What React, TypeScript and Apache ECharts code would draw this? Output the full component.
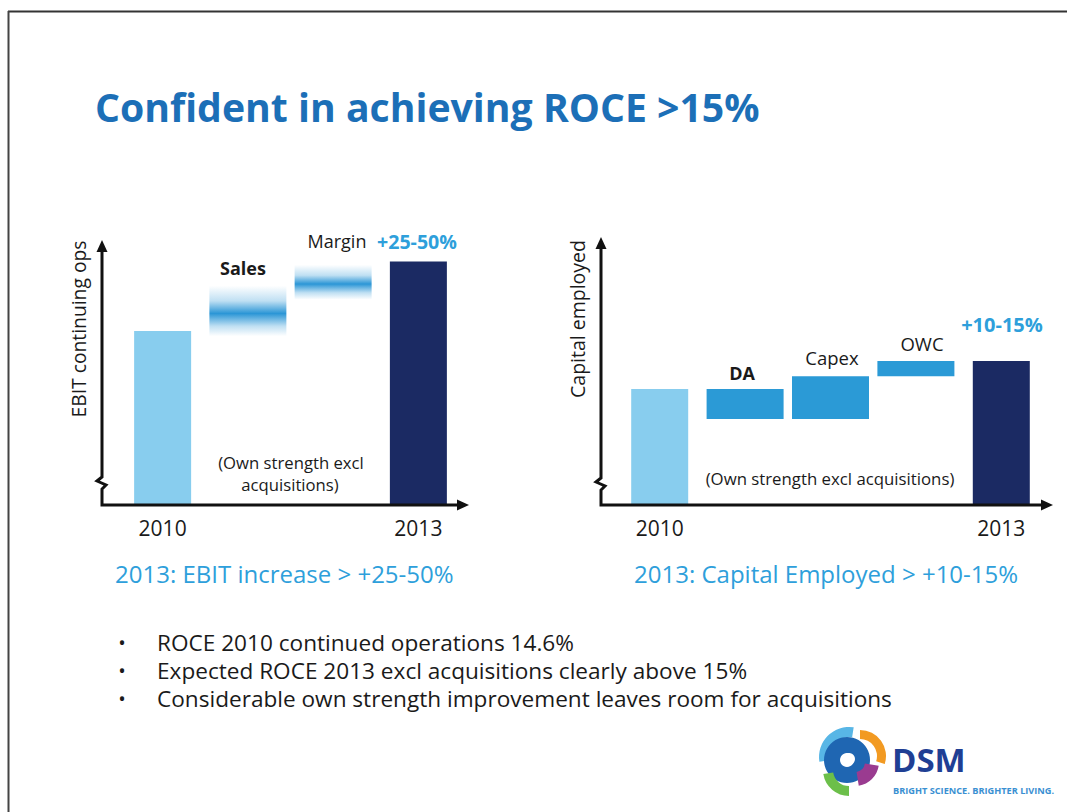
import React, { useEffect, useRef } from "react";
import * as echarts from "echarts";

// ---- data ----
const leftCategories = ["2010", "Sales", "Margin", "2013"];
const ebitTotals: (number | string)[] = [100, "-", "-", 140];
const ebitStepLow: (number | string)[] = ["-", 97, 118, "-"];
const ebitStepSize: (number | string)[] = ["-", 29, 20, "-"];

const rightCategories = ["2010", "DA", "Capex", "OWC", "2013"];
const capitalStart = 100;
const capitalChanges = [-26, 37, 13];
const capitalEnd = 124;

const yearLabels = ["2010", "2013"];
const bullets = [
  "ROCE 2010 continued operations 14.6%",
  "Expected ROCE 2013 excl acquisitions clearly above 15%",
  "Considerable own strength improvement leaves room for acquisitions",
];

const FONT = "'Open Sans', 'Noto Sans', sans-serif";
const LIGHT = "#88cdee";
const NAVY = "#1b2a63";
const MID = "#2b9ad6";
const CYAN_TEXT = "#2e9fdb";

function buildCapitalWaterfall() {
  const low: (number | string)[] = ["-"];
  const size: (number | string)[] = ["-"];
  let running = capitalStart;
  capitalChanges.forEach((c) => {
    const next = running + c;
    low.push(Math.min(running, next));
    size.push(Math.abs(c));
    running = next;
  });
  low.push("-");
  size.push("-");
  const totals: (number | string)[] = [capitalStart, "-", "-", "-", capitalEnd];
  return { low, size, totals };
}

function axisArrows(x: number, yTop: number, yBase: number, xEnd: number, breakY: number) {
  const stroke = "#111";
  return [
    {
      type: "polyline",
      shape: {
        points: [
          [x, yTop + 6],
          [x, breakY - 5],
          [x - 5, breakY - 1],
          [x + 4, breakY + 3],
          [x, breakY + 7],
          [x, yBase],
          [xEnd - 6, yBase],
        ],
      },
      style: { stroke, lineWidth: 3, fill: null },
      z: 10,
    },
    {
      type: "polygon",
      shape: { points: [[x, yTop], [x - 5.5, yTop + 12], [x + 5.5, yTop + 12]] },
      style: { fill: stroke },
      z: 10,
    },
    {
      type: "polygon",
      shape: { points: [[xEnd, yBase], [xEnd - 12, yBase - 5.5], [xEnd - 12, yBase + 5.5]] },
      style: { fill: stroke },
      z: 10,
    },
  ];
}

function txt(text: string, x: number, y: number, size: number, opts: any = {}) {
  return {
    type: "text",
    x,
    y,
    rotation: opts.rotation || 0,
    z: 20,
    style: {
      text,
      fill: opts.color || "#1a1a1a",
      font: `${opts.bold ? "bold " : ""}${size}px ${FONT}`,
      textAlign: opts.align || "center",
      textVerticalAlign: "middle",
    },
  };
}

export default function App() {
  const ref = useRef<HTMLDivElement>(null);

  useEffect(() => {
    if (!ref.current) return;
    const chart = echarts.init(ref.current, null, { renderer: "svg" });
    const cap = buildCapitalWaterfall();

    const band = {
      type: "linear",
      x: 0,
      y: 0,
      x2: 0,
      y2: 1,
      colorStops: [
        { offset: 0, color: "rgba(43,150,214,0)" },
        { offset: 0.3, color: "rgba(43,150,214,0.3)" },
        { offset: 0.55, color: "rgba(43,150,214,1)" },
        { offset: 0.8, color: "rgba(43,150,214,0.3)" },
        { offset: 1, color: "rgba(43,150,214,0)" },
      ],
    };

    const yearFormatter = (v: string) => (yearLabels.includes(v) ? v : "");
    const hiddenAxis = {
      axisLine: { show: false },
      axisTick: { show: false },
      splitLine: { show: false },
    };

    const option: any = {
      animation: false,
      backgroundColor: "#fff",
      grid: [
        { left: 120, width: 341, top: 244, height: 261 },
        { left: 617, width: 427, top: 238, height: 267 },
      ],
      xAxis: [
        {
          type: "category", gridIndex: 0, data: leftCategories, ...hiddenAxis,
          axisLabel: { formatter: yearFormatter, fontSize: 21, color: "#1a1a1a", fontFamily: FONT, margin: 12 },
        },
        { type: "category", gridIndex: 0, data: leftCategories, show: false },
        {
          type: "category", gridIndex: 1, data: rightCategories, ...hiddenAxis,
          axisLabel: { formatter: yearFormatter, fontSize: 21, color: "#1a1a1a", fontFamily: FONT, margin: 12 },
        },
        { type: "category", gridIndex: 1, data: rightCategories, show: false },
      ],
      yAxis: [
        { type: "value", gridIndex: 0, min: 0, max: 150, show: false },
        { type: "value", gridIndex: 1, min: 0, max: 230, show: false },
      ],
      series: [
        {
          type: "bar", xAxisIndex: 0, yAxisIndex: 0, barWidth: 57,
          data: ebitTotals.map((v, i) => ({ value: v, itemStyle: { color: i === 0 ? LIGHT : NAVY } })),
        },
        {
          type: "bar", xAxisIndex: 1, yAxisIndex: 0, barWidth: 77, stack: "ebit",
          data: ebitStepLow, itemStyle: { color: "transparent" },
        },
        {
          type: "bar", xAxisIndex: 1, yAxisIndex: 0, barWidth: 77, stack: "ebit",
          data: ebitStepSize, itemStyle: { color: band },
        },
        {
          type: "bar", xAxisIndex: 2, yAxisIndex: 1, barWidth: 57,
          data: cap.totals.map((v, i) => ({ value: v, itemStyle: { color: i === 0 ? LIGHT : NAVY } })),
        },
        {
          type: "bar", xAxisIndex: 3, yAxisIndex: 1, barWidth: 77, stack: "cap",
          data: cap.low, itemStyle: { color: "transparent" },
        },
        {
          type: "bar", xAxisIndex: 3, yAxisIndex: 1, barWidth: 77, stack: "cap",
          data: cap.size, itemStyle: { color: MID },
        },
      ],
      graphic: [
        // slide frame
        { type: "line", shape: { x1: 8, y1: 11.5, x2: 1067, y2: 11.5 }, style: { stroke: "#333", lineWidth: 2 } },
        { type: "line", shape: { x1: 8.5, y1: 11, x2: 8.5, y2: 812 }, style: { stroke: "#444", lineWidth: 2 } },
        // title
        txt("Confident in achieving ROCE >15%", 95, 106, 39.2, { bold: true, color: "#1c6fb7", align: "left" }),
        // left chart
        ...axisArrows(102, 240, 505, 469, 482),
        txt("EBIT continuing ops", 78, 329, 19.3, { rotation: Math.PI / 2 }),
        txt("Sales", 243, 268, 18, { bold: true }),
        txt("Margin", 337, 241, 18),
        txt("+25-50%", 377, 241, 19.6, { bold: true, color: CYAN_TEXT, align: "left" }),
        txt("(Own strength excl", 291, 462, 16.7),
        txt("acquisitions)", 290, 484, 16.7),
        // right chart
        ...axisArrows(601, 237, 505, 1053, 483),
        txt("Capital employed", 577, 319, 19.5, { rotation: Math.PI / 2 }),
        txt("DA", 742, 373, 18, { bold: true }),
        txt("Capex", 832, 357, 18.5),
        txt("OWC", 922, 343, 18.5),
        txt("+10-15%", 1002, 324, 20, { bold: true, color: CYAN_TEXT }),
        txt("(Own strength excl acquisitions)", 830, 478, 16.8),
        // subtitles
        txt("2013: EBIT increase > +25-50%", 115, 573, 24, { color: CYAN_TEXT, align: "left" }),
        txt("2013: Capital Employed > +10-15%", 634, 573, 24, { color: CYAN_TEXT, align: "left" }),
        // bullets
        ...bullets.flatMap((b, i) => [
          txt("•", 122, 642 + i * 28, 20),
          txt(b, 157, 642 + i * 28, 22.6, { align: "left" }),
        ]),
        // logo
        { type: "sector", shape: { cx: 849, cy: 757, r: 30, r0: 20, startAngle: Math.PI * 0.95, endAngle: Math.PI * 1.55 }, style: { fill: "#58b6e6" } },
        { type: "ring", shape: { cx: 847, cy: 760, r: 23, r0: 7 }, style: { fill: "#1f66b2" } },
        { type: "sector", shape: { cx: 860, cy: 756, r: 26, r0: 17, startAngle: -Math.PI * 0.5, endAngle: Math.PI * 0.1 }, style: { fill: "#f29a22" } },
        { type: "sector", shape: { cx: 849, cy: 770, r: 26, r0: 16, startAngle: Math.PI * 0.5, endAngle: Math.PI * 0.95 }, style: { fill: "#6cbf4a" } },
        { type: "sector", shape: { cx: 855, cy: 762, r: 24, r0: 10, startAngle: Math.PI * 0.05, endAngle: Math.PI * 0.45 }, style: { fill: "#9a3b90" } },
        { type: "circle", shape: { cx: 849, cy: 759, r: 6 }, style: { fill: "#fff" } },
        txt("DSM", 892, 759, 33, { bold: true, color: "#1f3f94", align: "left" }),
        txt("BRIGHT SCIENCE. BRIGHTER LIVING.", 893, 790, 9.2, { bold: true, color: "#3a90d2", align: "left" }),
      ],
    };

    chart.setOption(option);
    return () => chart.dispose();
  }, []);

  return (
    <div
      ref={ref}
      style={{ position: "absolute", left: 0, top: 0, width: 1067, height: 812, background: "#fff" }}
    />
  );
}
